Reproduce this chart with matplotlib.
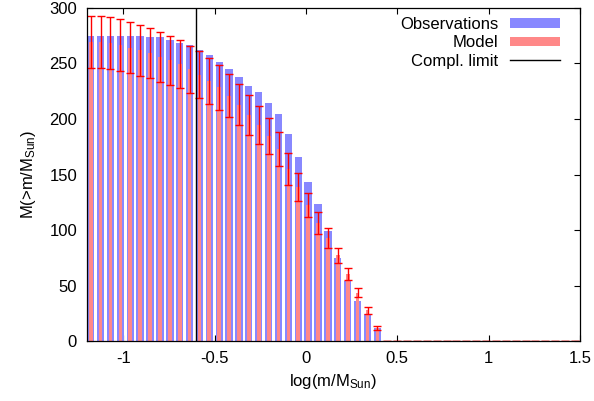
import matplotlib
matplotlib.use('Agg')
import matplotlib.pyplot as plt

plt.rcParams['font.family'] = ['Liberation Sans', 'DejaVu Sans']
plt.rcParams['mathtext.default'] = 'regular'

# bin centres in log(m/M_Sun)
logm = [-1.178, -1.124, -1.070, -1.016, -0.962, -0.908, -0.854, -0.799,
        -0.745, -0.691, -0.637, -0.583, -0.529, -0.475, -0.421, -0.367,
        -0.313, -0.258, -0.204, -0.150, -0.096, -0.042, 0.012, 0.066,
        0.120, 0.174, 0.229, 0.283, 0.337, 0.391,
        0.445, 0.499, 0.553, 0.607, 0.661, 0.715, 0.770, 0.824, 0.878,
        0.932, 0.986, 1.040, 1.094, 1.148, 1.202, 1.256, 1.311, 1.365,
        1.419, 1.473]

observed = [274.5, 274.5, 274.5, 274.5, 274.5, 274.5, 273.6, 273.6, 271.2,
            268.2, 266.1, 261.6, 257.4, 251.1, 244.8, 237.6, 229.8, 224.1,
            214.2, 204.3, 186.3, 165.6, 143.1, 123.3, 99.0, 75.0, 54.3,
            36.3, 24.9, 12.0,
            0, 0, 0, 0, 0, 0, 0, 0, 0, 0, 0, 0, 0, 0, 0, 0, 0, 0, 0, 0]

model = [269.3, 269.3, 268.2, 266.3, 264.0, 261.6, 258.9, 256.0, 252.7,
         249.0, 244.5, 239.7, 234.0, 228.3, 220.8, 212.7, 203.6, 194.9,
         184.5, 172.8, 154.7, 139.2, 122.9, 106.7, 93.2, 77.6, 60.9,
         44.0, 27.9, 12.2,
         0, 0, 0, 0, 0, 0, 0, 0, 0, 0, 0, 0, 0, 0, 0, 0, 0, 0, 0, 0]

model_err = [23.6, 23.6, 23.4, 23.3, 23.1, 22.8, 22.5, 22.4, 22.0, 21.6,
             21.3, 21.0, 20.4, 19.8, 19.2, 18.3, 17.6, 17.0, 16.2, 15.3,
             14.3, 12.6, 11.0, 9.8, 8.9, 6.8, 5.4, 4.0, 3.0, 1.7,
             0, 0, 0, 0, 0, 0, 0, 0, 0, 0, 0, 0, 0, 0, 0, 0, 0, 0, 0, 0]

compl_limit = -0.6

fig = plt.figure(figsize=(5.94, 4.01), dpi=100)
ax = fig.add_axes([0.146, 0.1484, 0.8304, 0.8324])

obs_bars = ax.bar(logm, observed, width=0.040, color='#8888ff', linewidth=0,
                  label='Observations', zorder=2)
mod_bars = ax.bar(logm, model, width=0.020, color='#ff8888', linewidth=0,
                  label='Model', zorder=3)
ax.errorbar(logm, model, yerr=model_err, fmt='none', ecolor='red',
            elinewidth=1.0, capsize=2.7, capthick=1.0, zorder=4)
vline = ax.axvline(compl_limit, color='black', lw=1.0, zorder=5,
                   label='Compl. limit')

ax.set_xlim(-1.2, 1.5)
ax.set_ylim(0, 300)
ax.set_xticks([-1, -0.5, 0, 0.5, 1, 1.5])
ax.set_xticklabels(['-1', '-0.5', '0', '0.5', '1', '1.5'])
ax.set_yticks(range(0, 301, 50))
ax.tick_params(direction='in', length=4.5, width=0.8, top=True, right=True,
               labelsize=12, pad=7)
for s in ax.spines.values():
    s.set_linewidth(0.9)
    s.set_zorder(6)

ax.set_xlabel('log(m/M$_{Sun}$)', fontsize=12, labelpad=4)
ax.set_ylabel('M(>m/M$_{Sun}$)', fontsize=12, labelpad=8)

ax.legend(handles=[obs_bars, mod_bars, vline],
          loc='upper right', bbox_to_anchor=(0.96, 0.972), frameon=False,
          markerfirst=False, fontsize=12, handlelength=3.0,
          handleheight=0.5, handletextpad=0.7, labelspacing=0.2,
          borderaxespad=0, borderpad=0)

fig.savefig('out.png', dpi=100)
